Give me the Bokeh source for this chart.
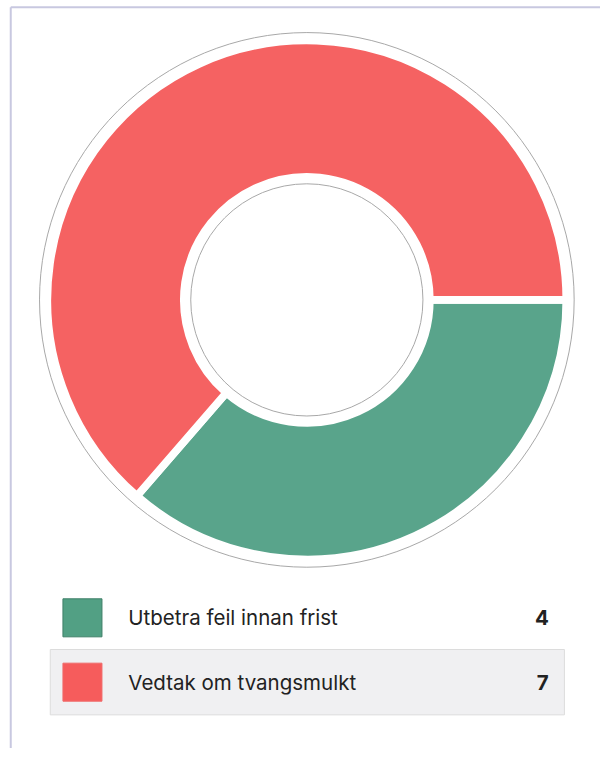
import math
from bokeh.plotting import figure
from bokeh.models import Range1d, ColumnDataSource
from bokeh.core.properties import value
from bokeh.embed import file_html
from bokeh.resources import INLINE

# ---- data ----
categories = ["Utbetra feil innan frist", "Vedtak om tvangsmulkt"]
counts = [4, 7]
colors = ["#59a48b", "#f56262"]
legend_colors = ["#52a084", "#f65c5c"]

# ---- figure: data space mirrors a 615x767 canvas (y up) ----
RW, RH = 615, 767
W, H = 600, 748
S = W / RW  # screen px per data unit
p = figure(width=W, height=H, output_backend="svg", toolbar_location=None,
           x_range=Range1d(0, RW), y_range=Range1d(0, RH), min_border=0)
p.axis.visible = False
p.grid.visible = False
p.outline_line_color = None
p.background_fill_color = "white"
p.border_fill_color = "white"

def Y(v):
    return RH - v

# card frame (left and top edges)
p.segment(x0=[10.5, 10.5], y0=[Y(767), Y(7)], x1=[10.5, 620], y1=[Y(7), Y(7)],
          line_color="#c8c8e0", line_width=2)

# ---- donut ----
cx, cy = 314, Y(307)
total = sum(counts)
starts, ends = [], []
cum = 0.0
for c in counts:
    a0 = cum / total * 2 * math.pi
    cum += c
    a1 = cum / total * 2 * math.pi
    starts.append(-a1)   # clockwise from 3 o'clock
    ends.append(-a0)

p.circle(x=[cx], y=[cy], radius=274, fill_color="white",
         line_color="#a8a8a8", line_width=1)

src = ColumnDataSource(dict(start=starts, end=ends, color=colors,
                            x=[cx] * len(counts), y=[cy] * len(counts)))
p.annular_wedge(x="x", y="y", inner_radius=126, outer_radius=266,
                start_angle="start", end_angle="end", fill_color="color",
                line_color="white", line_width=8 * S, source=src)

p.circle(x=[cx], y=[cy], radius=119, fill_color="white",
         line_color="#a8a8a8", line_width=1)

# ---- legend table ----
row_y = [Y(633), Y(699)]
p.rect(x=[314.5], y=[row_y[1]], width=527, height=67,
       fill_color="#f0f0f2", line_color="#dcdcdc", line_width=1)

p.rect(x=[84] * len(categories), y=row_y, width=40, height=39,
       fill_color=legend_colors, line_color=["#3f7f68", "#f06a6a"], line_width=1)

fs = f"{21 * S:.1f}px"
p.text(x=[131] * len(categories), y=row_y, text=categories,
       text_font=value("Inter"), text_font_size=fs, text_color="#222222",
       text_baseline="middle", text_align="left")

p.text(x=[562] * len(categories), y=row_y, text=[str(c) for c in counts],
       text_font=value("Inter"), text_font_size=fs, text_color="#222222",
       text_font_style="bold", text_baseline="middle", text_align="right")

open("out.html", "w").write(file_html(p, INLINE))
